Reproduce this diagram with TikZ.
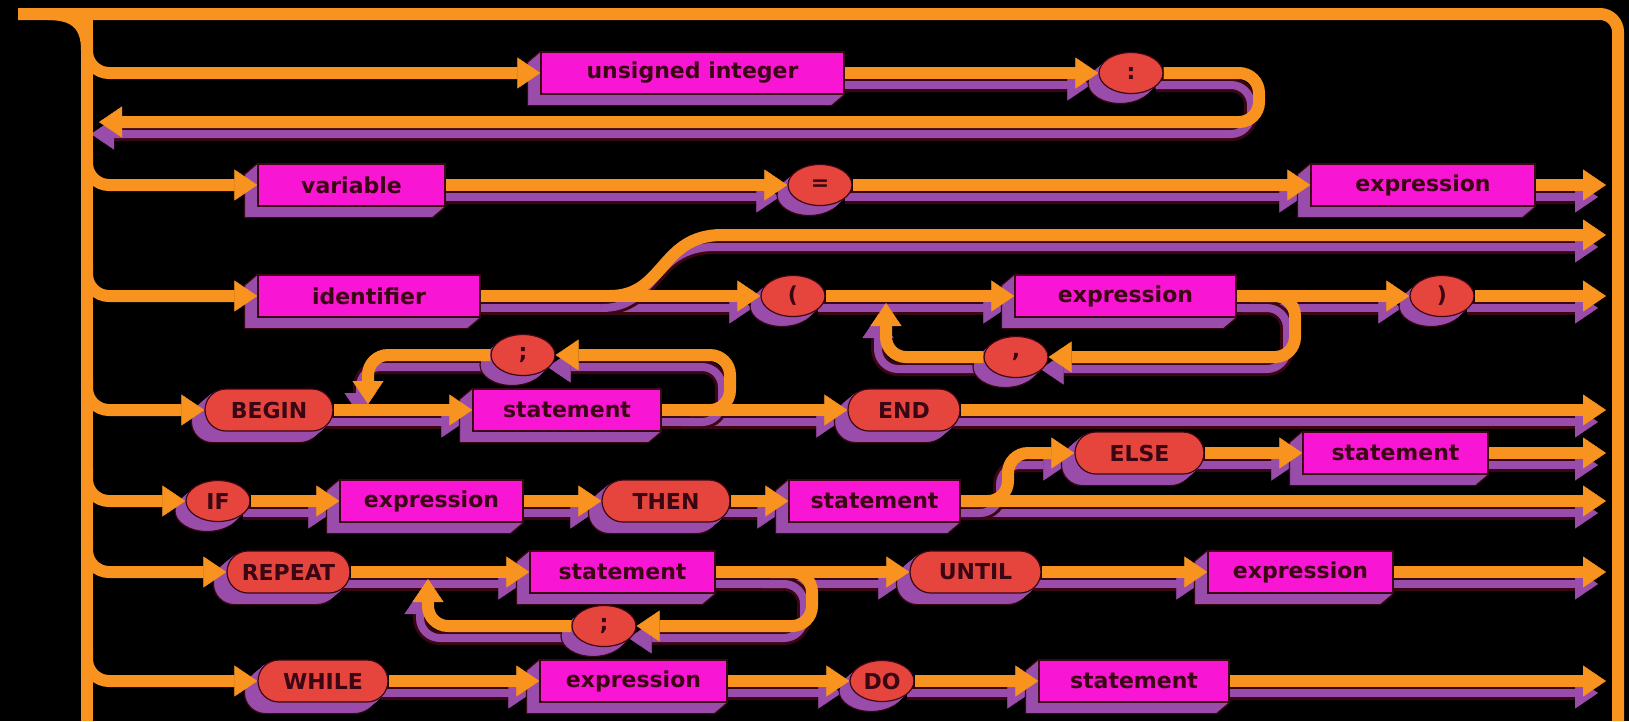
\documentclass[tikz,border=0pt]{standalone}
\usepackage{fontspec}
\setsansfont{DejaVu Sans}
\usetikzlibrary{arrows.meta,calc,shapes.geometric}
\definecolor{org}{HTML}{F7931E}
\definecolor{mag}{HTML}{F815D4}
\definecolor{pur}{HTML}{9A4CAA}
\definecolor{rd}{HTML}{E6453E}
\definecolor{dk}{HTML}{3A0614}
\pgfdeclarelayer{bg}
\pgfdeclarelayer{lshadow}
\pgfdeclarelayer{nshadow}
\pgfdeclarelayer{lines}
\pgfsetlayers{bg,lshadow,nshadow,lines,main}
\newcommand\lblf{\sffamily\bfseries\fontsize{22}{26}\selectfont}
\tikzset{
  sbox/.style={rectangle, fill=mag, draw=dk, line width=1.2pt, minimum height=42pt, inner sep=0pt, text=dk, font=\lblf},
  soval/.style={rectangle, rounded corners=21pt, fill=rd, draw=dk, line width=1.2pt, minimum height=42pt, inner sep=0pt, text=dk, font=\lblf},
  scirc/.style={ellipse, fill=rd, draw=dk, line width=1.2pt, minimum width=64pt, minimum height=41pt, inner sep=0pt, text=dk, font=\lblf},
  wr/.style={draw=org, line width=12pt},
  shd/.style={draw=dk, line width=14pt},
  shp/.style={draw=pur, line width=8pt},
  arr/.style={-{Triangle[width=31pt,length=23pt,line width=0.4pt]}},
  rc/.style={rounded corners=20pt},
}
\newcommand\synbox[5]{%
  \node[sbox, minimum width=#4] (#1) at (#2,#3) {#5};
  \begin{pgfonlayer}{nshadow}
    \filldraw[fill=pur, draw=dk, line width=1.2pt, line join=round] (#1.north west) -- ++(-13,11) |- ($(#1.south east)+(-13,11)$) -- (#1.south east) -- cycle;
  \end{pgfonlayer}}
\newcommand\synoval[5]{%
  \node[soval, minimum width=#4] (#1) at (#2,#3) {#5};
  \begin{pgfonlayer}{nshadow}
    \filldraw[fill=pur, draw=dk, line width=1.2pt, rounded corners=21pt] ($(#1.north west)+(-13,11)$) rectangle ($(#1.south east)+(-13,11)$);
    \foreach \ff in {0.125,0.25,0.375,0.5,0.625,0.75,0.875}
      {\fill[pur, rounded corners=21pt] ($(#1.north west)+\ff*(-13,11)$) rectangle ($(#1.south east)+\ff*(-13,11)$);}
  \end{pgfonlayer}}
\newcommand\syncirc[4]{%
  \node[scirc] (#1) at (#2,#3) {#4};
  \begin{pgfonlayer}{nshadow}
    \filldraw[fill=pur, draw=dk, line width=1.2pt] ($(#1.center)+(-11,10)$) ellipse [x radius=32pt, y radius=20.5pt];
    \foreach \ff in {0.125,0.25,0.375,0.5,0.625,0.75,0.875}
      {\fill[pur] ($(#1.center)+\ff*(-11,10)$) ellipse [x radius=32pt, y radius=20.5pt];}
  \end{pgfonlayer}}
\newcommand\wire[2][]{%
  \begin{pgfonlayer}{lshadow}
    \begin{scope}[transform canvas={shift={(-8pt,-12pt)}}]
      \draw[shd,#1] #2;
      \draw[shp,#1] #2;
    \end{scope}
  \end{pgfonlayer}
  \begin{pgfonlayer}{lines}
    \draw[wr,#1] #2;
  \end{pgfonlayer}}
\newcommand\pwire[2][]{%
  \begin{pgfonlayer}{lines}
    \draw[wr,#1] #2;
  \end{pgfonlayer}}
\begin{document}
\begin{tikzpicture}[x=1pt,y=-1pt]
\useasboundingbox (0,0) rectangle (1629,721);
\begin{pgfonlayer}{bg}\fill[black] (0,0) rectangle (1629,721);\end{pgfonlayer}
% nodes
\synbox{ui}{692.5}{73}{303}{unsigned integer}
\syncirc{colon}{1131}{73}{:}
\synbox{var}{351.5}{185}{187}{variable}
\syncirc{eq}{820}{185}{=}
\synbox{exa}{1423}{185}{224}{expression}
\synbox{idf}{369}{296}{222}{identifier}
\syncirc{lp}{793}{296}{(}
\synbox{exb}{1125.5}{296}{221}{expression}
\syncirc{rp}{1442}{296}{)}
\syncirc{cm}{1016}{357}{,}
\synoval{nbeg}{269}{410}{128}{BEGIN}
\synbox{sta}{567}{410}{188}{statement}
\syncirc{sca}{523}{355}{;}
\synoval{nend}{904}{410}{112}{END}
\syncirc{nif}{218}{501}{IF}
\synbox{exc}{431.5}{501}{183}{expression}
\synoval{nthen}{666}{501}{128}{THEN}
\synbox{stb}{874.5}{501}{171}{statement}
\synoval{nelse}{1139.5}{453}{129}{ELSE}
\synbox{stc}{1395.5}{453}{185}{statement}
\synoval{nrep}{288.5}{572}{123}{REPEAT}
\synbox{std}{622.5}{572}{185}{statement}
\syncirc{scb}{604}{626}{;}
\synoval{nunt}{975.5}{572}{131}{UNTIL}
\synbox{exd}{1300.5}{572}{185}{expression}
\synoval{nwhl}{323}{681}{130}{WHILE}
\synbox{exe}{633.5}{681}{187}{expression}
\syncirc{ndo}{882}{681}{DO}
\synbox{ste}{1134}{681}{190}{statement}
% frame coordinates
\coordinate (t0) at (18,14);
\coordinate (tR) at (1618,721);
\coordinate (tf) at (48,14);
\coordinate (bf) at (87,50);
\coordinate (bt) at (87,14);
\coordinate (bb) at (87,721);
\coordinate (b1) at (87,40);
\coordinate (b2) at (87,152);
\coordinate (b3) at (87,263);
\coordinate (b4) at (87,377);
\coordinate (b5) at (87,468);
\coordinate (b6) at (87,539);
\coordinate (b7) at (87,648);
\pwire[rounded corners=18pt]{(t0) -| (tR)}
\pwire{(tf) .. controls (76,14) and (87,26) .. (bf)}
\pwire{(bt) -- (bb)}
\pwire[arr,rounded corners=22pt]{(b1) |- (ui.west)}
\pwire[arr,rounded corners=22pt]{(b2) |- (var.west)}
\pwire[arr,rounded corners=22pt]{(b3) |- (idf.west)}
\pwire[arr,rounded corners=22pt]{(b4) |- (nbeg.west)}
\pwire[arr,rounded corners=22pt]{(b5) |- (nif.west)}
\pwire[arr,rounded corners=22pt]{(b6) |- (nrep.west)}
\pwire[arr,rounded corners=22pt]{(b7) |- (nwhl.west)}
% row 1
\coordinate (c1) at (1259,122);
\coordinate (e1) at (99,122);
\wire[arr]{(ui.east) -- (colon.west)}
\wire[arr,rc]{(colon.east) -| (c1) -- (e1)}
% row 2
\coordinate (x2) at (1606,185);
\wire[arr]{(var.east) -- (eq.west)}
\wire[arr]{(eq.east) -- (exa.west)}
\wire[arr]{(exa.east) -- (x2)}
% row 3
\coordinate (x3) at (1606,296);
\coordinate (j3) at (610,296);
\coordinate (k3) at (722,235);
\coordinate (x3b) at (1606,235);
\coordinate (j3c) at (1250,296);
\coordinate (c3c) at (1295,357);
\coordinate (u3) at (886,303);
\wire[arr]{(idf.east) -- (lp.west)}
\wire[arr]{(lp.east) -- (exb.west)}
\wire[arr]{(exb.east) -- (rp.west)}
\wire[arr]{(rp.east) -- (x3)}
\wire[arr]{(j3) .. controls (665,296) and (660,235) .. (k3) -- (x3b)}
\wire[arr,rc]{(j3c) -| (c3c) -- (cm.east)}
\wire[arr,rc]{(cm.west) -| (u3)}
% row 4
\coordinate (x4) at (1606,410);
\coordinate (j4) at (690,410);
\coordinate (c4) at (730,355);
\coordinate (u4) at (368,404);
\wire[arr]{(nbeg.east) -- (sta.west)}
\wire[arr]{(sta.east) -- (nend.west)}
\wire[arr]{(nend.east) -- (x4)}
\wire[arr,rc]{(j4) -| (c4) -- (sca.east)}
\wire[arr,rc]{(sca.west) -| (u4)}
% row 5
\coordinate (x5) at (1606,501);
\coordinate (j5) at (962,501);
\coordinate (c5) at (1008,453);
\coordinate (x5b) at (1606,453);
\wire[arr]{(nif.east) -- (exc.west)}
\wire[arr]{(exc.east) -- (nthen.west)}
\wire[arr]{(nthen.east) -- (stb.west)}
\wire[arr]{(stb.east) -- (x5)}
\wire[arr,rc]{(j5) -| (c5) -- (nelse.west)}
\wire[arr]{(nelse.east) -- (stc.west)}
\wire[arr]{(stc.east) -- (x5b)}
% row 6
\coordinate (x6) at (1606,572);
\coordinate (j6) at (770,572);
\coordinate (c6) at (812,626);
\coordinate (u6) at (428,579);
\wire[arr]{(nrep.east) -- (std.west)}
\wire[arr]{(std.east) -- (nunt.west)}
\wire[arr]{(nunt.east) -- (exd.west)}
\wire[arr]{(exd.east) -- (x6)}
\wire[arr,rc]{(j6) -| (c6) -- (scb.east)}
\wire[arr,rc]{(scb.west) -| (u6)}
% row 7
\coordinate (x7) at (1606,681);
\wire[arr]{(nwhl.east) -- (exe.west)}
\wire[arr]{(exe.east) -- (ndo.west)}
\wire[arr]{(ndo.east) -- (ste.west)}
\wire[arr]{(ste.east) -- (x7)}
\end{tikzpicture}
\end{document}
